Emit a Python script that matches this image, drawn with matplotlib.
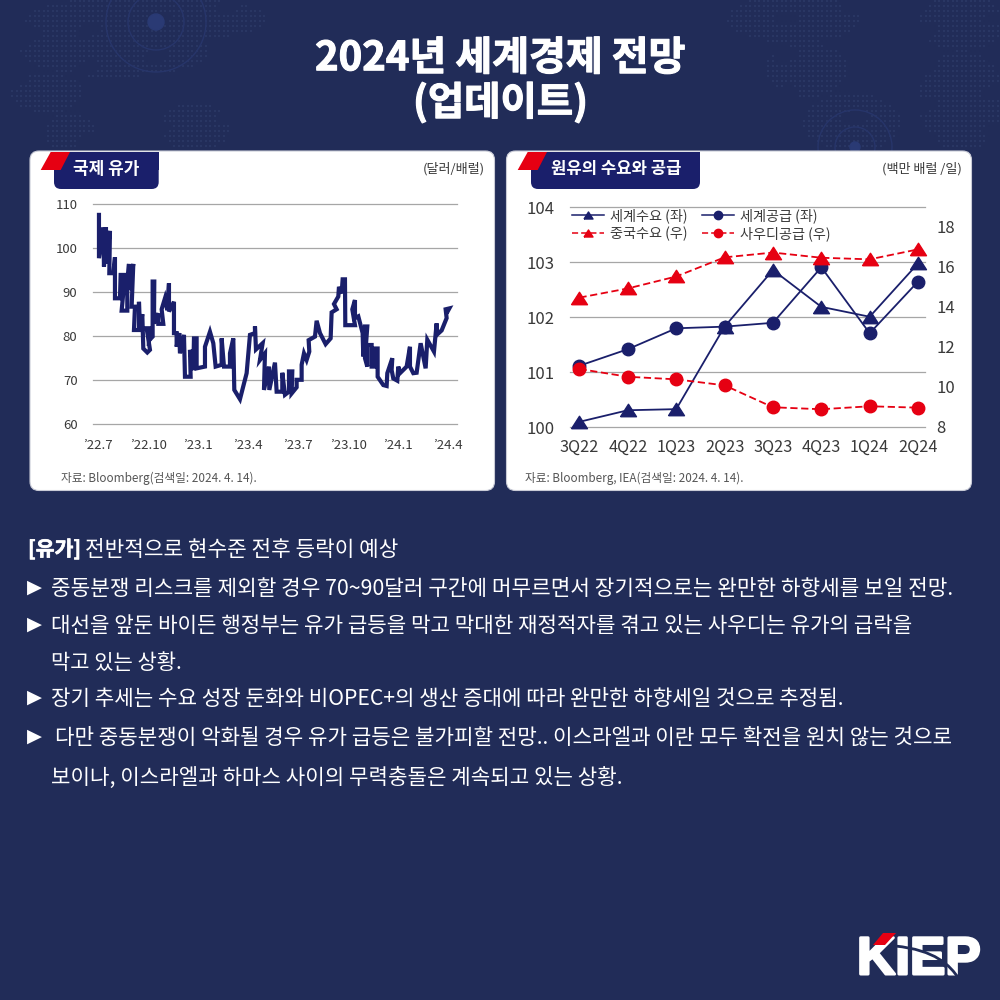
import matplotlib
matplotlib.use("Agg")
import matplotlib.pyplot as plt
import matplotlib.patheffects as pe
from matplotlib.patches import Polygon, Rectangle, FancyBboxPatch, Circle, PathPatch
from matplotlib.path import Path
from matplotlib.lines import Line2D
import numpy as np

plt.rcParams['font.family'] = ['Noto Sans CJK KR', 'DejaVu Sans']

# ---------- data ----------
price_pos = [2,2,15,17,23,23,35,33,45,50,50,65,67,80,70,87,87,92,92,105,100,110,107,122,122,125,132,135,147,155,145,157,153,163,163,168,167,180,180,195,190,200,207,212,212,227,227,235,235,243,245,257,260,277,275,285,287,295,295,320,320,335,345,352,370,370,377,395,395,405,408,425,445,455,470,470,473,493,485,500,497,512,513,530,535,552,552,560,572,572,582,580,595,595,610,610,617,625,633,631,650,655,665,682,697,700,715,707,720,722,730,733,740,741,770,762,770,770,780,793,795,800,807,800,807,807,820,820,827,830,838,838,855,865,867,882,880,885,897,900,905,925,935,935,945,955,967,982,987,1007,1015,1017,1030,1045,1042,1053,1045]
price_val = [108.0,97.7,104.7,95.8,104.7,96.5,103.9,94.3,94.3,97.9,88.6,88.6,93.9,93.9,85.8,85.8,92.0,96.4,90.5,96.4,86.7,86.7,81.4,81.4,87.8,81.4,85.0,77.2,76.3,76.9,81.8,81.8,79.1,79.9,92.4,92.4,82.9,85.2,82.8,82.8,86.1,88.6,85.9,92.0,85.6,87.8,80.7,80.7,77.6,80.7,76.1,80.3,70.8,70.8,76.9,72.3,79.5,79.5,72.7,73.1,77.6,81.0,78.4,73.1,73.5,79.5,73.1,73.1,76.1,79.5,67.8,65.7,71.6,80.3,80.7,82.2,77.0,78.4,74.6,76.1,67.8,73.1,67.8,74.0,67.4,67.4,71.7,66.7,67.4,72.0,72.0,67.0,68.4,70.1,70.1,73.5,76.1,74.6,76.5,79.1,79.9,83.5,80.7,78.2,79.5,85.4,86.1,87.3,89.0,91.2,89.7,92.9,92.9,82.5,82.5,86.1,88.2,84.1,84.5,80.7,75.4,82.2,82.2,75.0,73.1,78.0,78.0,73.1,73.1,77.2,77.2,70.8,68.9,68.7,71.6,75.0,72.3,70.4,69.9,73.1,71.6,73.1,77.6,73.1,71.6,71.7,78.4,72.7,79.2,76.5,82.9,80.4,81.3,84.1,86.1,86.3,85.2]
price_ticks = [0,150,300,450,600,750,900,1050]
price_labels = ["’22.7","’22.10","’23.1","’23.4","’23.7","’23.10","’24.1","’24.4"]
price_yticks = [60,70,80,90,100,110]

quarters = ["3Q22","4Q22","1Q23","2Q23","3Q23","4Q23","1Q24","2Q24"]
world_demand = [100.10,100.31,100.33,101.83,102.86,102.19,102.01,102.98]
world_supply = [101.12,101.42,101.80,101.83,101.90,102.91,101.71,102.65]
china_demand = [14.44,14.90,15.50,16.46,16.70,16.44,16.36,16.86]
saudi_supply = [10.86,10.47,10.34,10.04,8.94,8.84,8.99,8.92]
left_yticks = [100,101,102,103,104]
right_yticks = [8,10,12,14,16,18]

title_lines = ["2024년 세계경제 전망", "(업데이트)"]
body_lines = [
    ("전반적으로 현수준 전후 등락이 예상", 85, 397, 548),
    ("중동분쟁 리스크를 제외할 경우 70~90달러 구간에 머무르면서 장기적으로는 완만한 하향세를 보일 전망.", 51, 951, 587),
    ("대선을 앞둔 바이든 행정부는 유가 급등을 막고 막대한 재정적자를 겪고 있는 사우디는 유가의 급락을", 51, 912, 624),
    ("막고 있는 상황.", 51, 182, 661),
    ("장기 추세는 수요 성장 둔화와 비OPEC+의 생산 증대에 따라 완만한 하향세일 것으로 추정됨.", 51, 843, 697),
    ("다만 중동분쟁이 악화될 경우 유가 급등은 불가피할 전망.. 이스라엘과 이란 모두 확전을 원치 않는 것으로", 55, 952, 736),
    ("보이나, 이스라엘과 하마스 사이의 무력충돌은 계속되고 있는 상황.", 51, 620, 776),
]
bullet_rows = [587, 624, 697, 736]

# ---------- colours ----------
BG = "#212c58"
NAVY = "#1a1f6b"
RED = "#e60012"
GRID = "#a6a6a6"
TXT = "#3a3a3a"
TRI = [(-1,-0.78),(1,-0.78),(0,0.78),(-1,-0.78)]

fig = plt.figure(figsize=(10, 10), dpi=100, facecolor=BG)
bg = fig.add_axes([0, 0, 1, 1])
bg.set_xlim(0, 1000); bg.set_ylim(1000, 0); bg.axis('off')
renderer = fig.canvas.get_renderer()


def fit(s, x0, x1, yc, color="white", weight="normal", family=None, stroke=0):
    """Place text so that it runs from x0 to x1 (pixels), vertically centred at yc."""
    kw = {"family": family} if family else {}
    t = bg.text(x0, yc, s, color=color, fontweight=weight, fontsize=10, va="baseline", ha="left", **kw)
    w = t.get_window_extent(renderer).width
    size = 10 * (x1 - x0) / w
    t.set_fontsize(size)
    t.set_y(yc + 0.38 * size * 100 / 72)
    if stroke:
        t.set_path_effects([pe.withStroke(linewidth=stroke, foreground=color)])
    return t


# world-map dot texture
blobs = [(25,268,-5,43),(20,210,27,77),(10,83,73,113),(160,230,103,152),(45,95,113,152),
         (727,860,-5,43),(765,848,43,97),(803,900,93,152),(918,1005,-5,50),(918,1005,50,152)]
xs, ys = np.meshgrid(np.arange(3, 1000, 4.5), np.arange(1, 151, 5))
mask = np.zeros_like(xs, dtype=bool)
for x0, x1, y0, y1 in blobs:
    cx, cy, rx, ry = (x0+x1)/2, (y0+y1)/2, (x1-x0)/2, (y1-y0)/2
    mask |= ((xs-cx)/rx)**2 + ((ys-cy)/ry)**2 < 1
mask &= ~((np.sin(xs*0.09)+np.sin(ys*0.17+xs*0.03)) > 1.4)
bg.scatter(xs[mask], ys[mask], s=4.5, marker='s', color="#293663", linewidths=0, zorder=0)
for cx, cy, r in [(156,22,28),(156,22,50),(855,147,20),(855,147,37)]:
    bg.add_patch(Circle((cx,cy), r, fill=False, ec="#27356a", lw=1.0, zorder=0))
bg.add_patch(Circle((156,22), 8, color="#2a3a74", zorder=0))
bg.add_patch(Circle((855,147), 5, color="#2a3a74", zorder=0))

# title
fit(title_lines[0], 315, 685, 55, weight="bold", stroke=0.8)
fit(title_lines[1], 413, 587, 100, weight="bold", stroke=0.8)

# cards
for x0, x1, tx1, dx in [(30,494.5,158.7,0),(506.5,971.5,700,477.0)]:
    bg.add_patch(FancyBboxPatch((x0+6,151+6),(x1-x0-12),(490.5-151-12),
                 boxstyle="round,pad=6,rounding_size=9", fc="white", ec="#c9cbd6", lw=0.8, zorder=1))
    tx0 = 54 + dx
    bg.add_patch(FancyBboxPatch((tx0+6,152+6),(tx1-tx0-12),(189-152-12),
                 boxstyle="round,pad=6,rounding_size=7", fc=NAVY, ec="none", zorder=2))
    bg.add_patch(Rectangle((tx0,152),tx1-tx0,18,fc=NAVY,ec="none",zorder=2))
    bg.add_patch(Polygon([(50.7+dx,152),(70+dx,152),(60.7+dx,170),(40.7+dx,170)],fc=RED,ec="none",zorder=3))

for t in [fit("국제 유가", 73, 139, 168, weight="bold"),
          fit("원유의 수요와 공급", 551, 681, 168, weight="bold"),
          fit("(달러/배럴)", 423, 485, 168, color=TXT),
          fit("(백만 배럴 /일)", 882, 962, 168, color=TXT),
          fit("자료: Bloomberg(검색일: 2024. 4. 14).", 61, 256, 478, color="#555555"),
          fit("자료: Bloomberg, IEA(검색일: 2024. 4. 14).", 525, 743, 478, color="#555555")]:
    t.set_zorder(5)

# left chart
def px_axes(x0, x1, ytop, ybot):
    return fig.add_axes([x0/1000, 1-ybot/1000, (x1-x0)/1000, (ybot-ytop)/1000])

ax1 = px_axes(92.7, 456.7, 204, 424.3)
ax1.patch.set_alpha(0)
ax1.plot(price_pos, price_val, color=NAVY, lw=3.0, solid_joinstyle='miter', solid_capstyle='butt', zorder=3)
ax1.set_xlim(-16.8, 1075.2); ax1.set_ylim(60, 110)
ax1.set_xticks(price_ticks); ax1.set_xticklabels(price_labels, fontsize=9.5, color=TXT)
ax1.set_yticks(price_yticks); ax1.set_yticklabels([str(v) for v in price_yticks], fontsize=9.5, color=TXT)
ax1.tick_params(length=0)
ax1.tick_params(axis='x', pad=10.5); ax1.tick_params(axis='y', pad=11)
ax1.grid(axis='y', color=GRID, lw=0.9); ax1.set_axisbelow(True)
for g in ax1.get_ygridlines(): g.set_clip_on(False)
for s in ax1.spines.values(): s.set_visible(False)

# right chart
ax2 = px_axes(570, 925, 207.3, 427.3)
ax2.patch.set_alpha(0)
idx = list(range(len(quarters)))
ax2.plot(idx, world_demand, color=NAVY, lw=1.3, marker=TRI, ms=11.5, clip_on=False, zorder=3)
ax2.plot(idx, world_supply, color=NAVY, lw=1.3, marker='o', ms=9, clip_on=False, zorder=3)
ax2.set_xlim(-0.196, 7.144); ax2.set_ylim(100, 104)
ax2.set_xticks(idx); ax2.set_xticklabels(quarters, fontsize=11.7, color=TXT)
ax2.set_yticks(left_yticks); ax2.set_yticklabels([str(v) for v in left_yticks], fontsize=12, color=TXT)
ax2.tick_params(length=0); ax2.tick_params(axis='x', pad=8.5); ax2.tick_params(axis='y', pad=11)
ax2.grid(axis='y', color=GRID, lw=0.9); ax2.set_axisbelow(True)
for g in ax2.get_ygridlines(): g.set_clip_on(False)
for s in ax2.spines.values(): s.set_visible(False)

ax3 = ax2.twinx()
ax3.patch.set_alpha(0)
ax3.plot(idx, china_demand, color=RED, lw=1.3, ls=(0,(4,2)), marker=TRI, ms=11.5, clip_on=False, zorder=3)
ax3.plot(idx, saudi_supply, color=RED, lw=1.3, ls=(0,(4,2)), marker='o', ms=9, clip_on=False, zorder=3)
ax3.set_ylim(7.935, 18.97)
ax3.set_yticks(right_yticks); ax3.set_yticklabels([str(v) for v in right_yticks], fontsize=12, color=TXT)
ax3.tick_params(length=0); ax3.tick_params(axis='y', pad=8)
for s in ax3.spines.values(): s.set_visible(False)

handles = [
    Line2D([],[],color=NAVY,lw=1.1,marker=TRI,ms=6.5),
    Line2D([],[],color=RED,lw=1.1,ls=(0,(4,2)),marker=TRI,ms=6.5),
    Line2D([],[],color=NAVY,lw=1.1,marker='o',ms=6),
    Line2D([],[],color=RED,lw=1.1,ls=(0,(4,2)),marker='o',ms=6),
]
ax3.legend(handles, ["세계수요 (좌)","중국수요 (우)","세계공급 (좌)","사우디공급 (우)"],
           ncols=2, frameon=False, fontsize=10.2, labelcolor=TXT, numpoints=1,
           loc='upper left', bbox_to_anchor=(0.572, 1-0.2085), bbox_transform=fig.transFigure,
           borderpad=0, borderaxespad=0, handlelength=2.25, handletextpad=0.42,
           columnspacing=1.05, labelspacing=0.22)

# body text
fit("[유가]", 28, 81, 548, weight="bold", stroke=0.5)
for s, x0, x1, yc in body_lines:
    fit(s, x0, x1, yc)
for yc in bullet_rows:
    bg.text(34, yc, "▶", color="white", fontsize=14, ha="center", va="center", family=["DejaVu Sans"])

# KIEP logo
fit("KIEP", 857, 980, 954, weight="bold", family=["Liberation Sans Narrow","Liberation Sans"], stroke=2.0)
bg.add_patch(Polygon([(883,933),(896,933),(885,945),(873,945)],fc=RED,ec="none",zorder=6))
swoosh = Path([(895,946),(935,950),(950,965),(959,979)],[Path.MOVETO,Path.CURVE4,Path.CURVE4,Path.CURVE4])
bg.add_patch(PathPatch(swoosh,fc="none",ec=BG,lw=2.0,zorder=6))

fig.savefig("out.png", dpi=100, facecolor=BG)
